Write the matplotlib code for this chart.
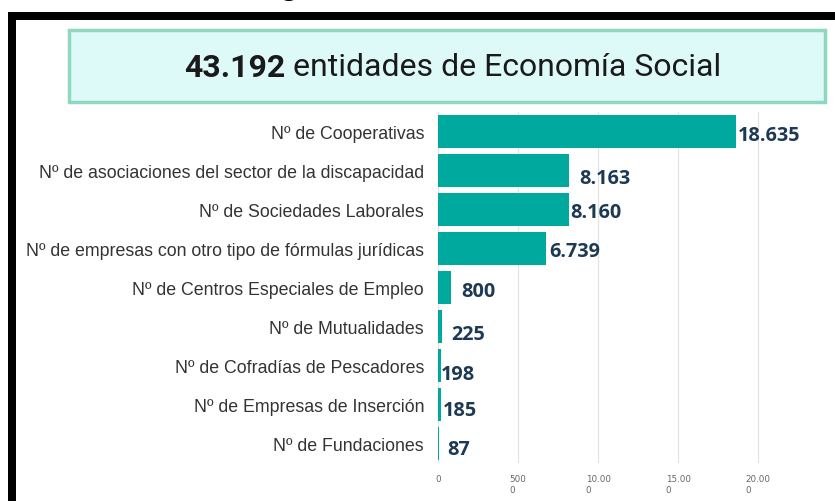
import matplotlib.pyplot as plt
from matplotlib.patches import Rectangle

# data
categories = [
    "Nº de Cooperativas",
    "Nº de asociaciones del sector de la discapacidad",
    "Nº de Sociedades Laborales",
    "Nº de empresas con otro tipo de fórmulas jurídicas",
    "Nº de Centros Especiales de Empleo",
    "Nº de Mutualidades",
    "Nº de Cofradías de Pescadores",
    "Nº de Empresas de Inserción",
    "Nº de Fundaciones",
]
values = [18635, 8163, 8160, 6739, 800, 225, 198, 185, 87]
value_labels = ["18.635", "8.163", "8.160", "6.739", "800", "225", "198", "185", "87"]
tick_values = [0, 5000, 10000, 15000, 20000]
tick_labels = ["0", "500\n0", "10.00\n0", "15.00\n0", "20.00\n0"]
total_bold = "43.192"
total_text = " entidades de Economía Social"

# label nudges in pixels (dx, dy) - the labels in the original aren't aligned
nudges = [(1, -4), (10, -7.5), (2, -2.5), (3, -2.5), (10, -3.5), (10, -7.5), (0, -8.5), (2, -5.5), (8, -5.5)]

W, H = 835, 502
fig = plt.figure(figsize=(W / 100, H / 100), dpi=100)
fig.patch.set_facecolor("white")

def px(x0, y0, x1, y1):
    # pixel box (top-left origin) -> figure fraction rect
    return [x0 / W, 1 - y1 / H, (x1 - x0) / W, (y1 - y0) / H]

# black frame of the screenshot
fig.patches.append(Rectangle((8 / W, 0), 8 / W, 1 - 13 / H, transform=fig.transFigure,
                             facecolor="black", edgecolor="none"))
fig.patches.append(Rectangle((8 / W, 1 - 21 / H), 1, 8 / H, transform=fig.transFigure,
                             facecolor="black", edgecolor="none"))
# bottom of a cut-off heading above the frame
fig.text(290 / W, 1 + 9 / H, "g", fontsize=16, fontweight="bold", color="black",
         ha="center", va="center", family="DejaVu Sans")

# title box
fig.patches.append(Rectangle((69 / W, 1 - 103 / H), (825 - 69) / W, (103 - 31) / H,
                             transform=fig.transFigure, facecolor="#defaf8",
                             edgecolor="#8fd8c0", linewidth=2.5))
t1 = fig.text(184 / W, 1 - 68 / H, total_bold, fontsize=23, fontweight="bold",
              color="#1a1a1a", ha="left", va="center", family="Roboto")
fig.canvas.draw()
bb = t1.get_window_extent()
fig.text(bb.x1 / W, 1 - 68 / H, total_text, fontsize=23, color="#1a1a1a",
         ha="left", va="center", family="Roboto")

# bar chart
ax = fig.add_axes(px(438, 113, 800, 464))
y = list(range(len(categories)))
ax.barh(y, values, height=0.87, color="#00a99d", zorder=2)
ax.set_ylim(len(categories) - 0.5, -0.5)
ax.set_xlim(0, 22600)
ax.set_yticks(y)
ax.set_yticklabels(categories, fontsize=12.8, color="#333333", family="Liberation Sans")
ax.tick_params(axis="y", length=0, pad=10)
ax.set_xticks(tick_values)
ax.set_xticklabels(tick_labels, fontsize=6.3, color="#666666", family="DejaVu Sans",
                   multialignment="left")
ax.tick_params(axis="x", length=0, pad=8)
for s in ax.spines.values():
    s.set_visible(False)
ax.grid(axis="x", color="#e3e3e3", linewidth=0.9, zorder=0)
ax.set_axisbelow(True)

for i, (v, lab) in enumerate(zip(values, value_labels)):
    dx, dy = nudges[i]
    ax.annotate(lab, (v, i), xytext=(dx, dy), textcoords="offset pixels",
                ha="left", va="center", fontsize=14.3, fontweight="bold",
                color="#1d3954", family="Open Sans", zorder=3)

fig.savefig("out.png", dpi=100)
